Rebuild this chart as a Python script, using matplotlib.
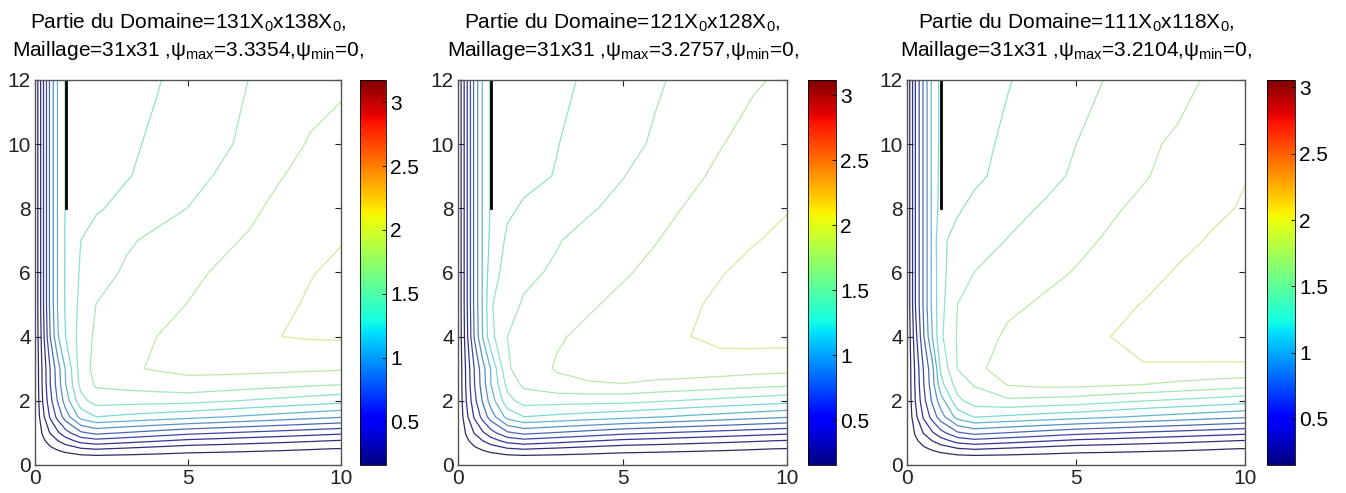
import numpy as np
import matplotlib
matplotlib.use("Agg")
import matplotlib.pyplot as plt
from matplotlib import cm, colors

plt.rcParams['font.family'] = ['Liberation Sans', 'DejaVu Sans']
plt.rcParams['mathtext.fontset'] = 'custom'
plt.rcParams['mathtext.rm'] = 'Liberation Sans'
plt.rcParams['mathtext.it'] = 'Liberation Sans:italic'

# --- maillage (partie visible du domaine) ---
x_nodes = [0, 0.25, 0.5, 0.75, 1, 1.5, 2, 3, 4, 5, 6, 7, 8, 9, 10]
y_nodes = [0, 0.25, 0.5, 0.75, 1, 1.5, 2, 2.5, 3, 4, 5, 6, 7, 8, 9, 10, 12]

domaines = ["131X$_0$x138X$_0$", "121X$_0$x128X$_0$", "111X$_0$x118X$_0$"]
maillage = "31x31"
psi_max = [3.3354, 3.2757, 3.2104]
psi_min = [0, 0, 0]

# fonction de courant psi(y, x), une ligne par valeur de y_nodes
psi_131 = [
    [0, 0, 0, 0, 0, 0, 0, 0, 0, 0, 0, 0, 0, 0, 0],
    [0, .026, .047, .065, .082, .110, .120, .112, .103, .095, .091, .087, .084, .080, .076],
    [0, .070, .129, .178, .225, .300, .328, .293, .258, .223, .209, .195, .181, .167, .153],
    [0, .124, .229, .316, .400, .535, .582, .535, .487, .440, .413, .386, .359, .332, .305],
    [0, .178, .329, .454, .574, .768, .836, .783, .730, .677, .644, .610, .577, .543, .510],
    [0, .271, .500, .690, .873, 1.168, 1.271, 1.235, 1.199, 1.163, 1.124, 1.085, 1.047, 1.008, .970],
    [0, .319, .589, .812, 1.028, 1.375, 1.497, 1.490, 1.485, 1.480, 1.449, 1.418, 1.388, 1.357, 1.326],
    [0, .344, .633, .874, 1.106, 1.480, 1.610, 1.640, 1.670, 1.700, 1.678, 1.655, 1.633, 1.610, 1.588],
    [0, .350, .645, .890, 1.126, 1.510, 1.640, 1.730, 1.760, 1.780, 1.790, 1.790, 1.785, 1.775, 1.765],
    [0, .400, .800, 1.100, 1.270, 1.500, 1.620, 1.700, 1.748, 1.790, 1.830, 1.870, 1.905, 1.920, 1.925],
    [0, .430, .840, 1.130, 1.290, 1.470, 1.590, 1.650, 1.710, 1.750, 1.790, 1.840, 1.880, 1.920, 1.950],
    [0, .430, .840, 1.130, 1.290, 1.450, 1.530, 1.610, 1.670, 1.720, 1.760, 1.810, 1.860, 1.900, 1.930],
    [0, .430, .840, 1.130, 1.290, 1.430, 1.500, 1.570, 1.620, 1.670, 1.720, 1.760, 1.820, 1.870, 1.900],
    [0, .430, .840, 1.130, 1.280, 1.350, 1.410, 1.480, 1.540, 1.590, 1.650, 1.720, 1.780, 1.830, 1.860],
    [0, .430, .840, 1.130, 1.280, 1.320, 1.360, 1.420, 1.480, 1.540, 1.600, 1.660, 1.740, 1.790, 1.820],
    [0, .430, .840, 1.130, 1.280, 1.310, 1.340, 1.400, 1.460, 1.520, 1.560, 1.620, 1.690, 1.760, 1.780],
    [0, .430, .840, 1.130, 1.280, 1.300, 1.330, 1.380, 1.420, 1.490, 1.540, 1.590, 1.640, 1.690, 1.730],
]

psi_121 = [
    [0, 0, 0, 0, 0, 0, 0, 0, 0, 0, 0, 0, 0, 0, 0],
    [0, .026, .046, .064, .081, .108, .118, .110, .101, .093, .089, .085, .082, .079, .075],
    [0, .069, .127, .175, .221, .295, .322, .288, .253, .219, .205, .191, .178, .164, .150],
    [0, .122, .225, .310, .393, .525, .572, .525, .478, .432, .406, .379, .353, .326, .300],
    [0, .175, .323, .446, .564, .754, .821, .769, .717, .665, .632, .599, .567, .533, .501],
    [0, .266, .491, .678, .857, 1.147, 1.248, 1.213, 1.177, 1.142, 1.104, 1.065, 1.028, .990, .953],
    [0, .313, .578, .797, 1.009, 1.350, 1.470, 1.463, 1.458, 1.453, 1.423, 1.392, 1.363, 1.333, 1.302],
    [0, .338, .622, .858, 1.090, 1.450, 1.590, 1.670, 1.700, 1.710, 1.680, 1.660, 1.635, 1.610, 1.586],
    [0, .345, .634, .874, 1.105, 1.540, 1.630, 1.730, 1.770, 1.790, 1.800, 1.800, 1.790, 1.775, 1.763],
    [0, .400, .800, 1.100, 1.360, 1.560, 1.620, 1.700, 1.750, 1.790, 1.830, 1.868, 1.920, 1.930, 1.930],
    [0, .420, .825, 1.110, 1.390, 1.510, 1.575, 1.640, 1.700, 1.750, 1.800, 1.850, 1.900, 1.920, 1.930],
    [0, .420, .825, 1.110, 1.340, 1.460, 1.530, 1.580, 1.640, 1.700, 1.750, 1.810, 1.865, 1.910, 1.930],
    [0, .420, .825, 1.110, 1.290, 1.430, 1.480, 1.550, 1.610, 1.670, 1.710, 1.770, 1.820, 1.865, 1.900],
    [0, .420, .825, 1.110, 1.270, 1.380, 1.420, 1.480, 1.545, 1.600, 1.660, 1.730, 1.790, 1.840, 1.865],
    [0, .420, .825, 1.110, 1.270, 1.320, 1.370, 1.410, 1.490, 1.555, 1.620, 1.680, 1.750, 1.800, 1.830],
    [0, .420, .825, 1.110, 1.270, 1.310, 1.350, 1.400, 1.450, 1.510, 1.580, 1.640, 1.710, 1.770, 1.800],
    [0, .420, .825, 1.110, 1.270, 1.290, 1.320, 1.380, 1.420, 1.480, 1.540, 1.600, 1.650, 1.700, 1.740],
]

psi_111 = [
    [0, 0, 0, 0, 0, 0, 0, 0, 0, 0, 0, 0, 0, 0, 0],
    [0, .025, .046, .063, .080, .107, .116, .109, .100, .092, .088, .084, .081, .078, .074],
    [0, .068, .125, .173, .218, .291, .318, .284, .250, .216, .203, .189, .176, .162, .148],
    [0, .120, .222, .307, .388, .519, .565, .519, .472, .427, .401, .374, .348, .322, .296],
    [0, .173, .319, .440, .557, .745, .811, .760, .708, .657, .625, .592, .560, .527, .495],
    [0, .263, .485, .669, .847, 1.133, 1.233, 1.198, 1.163, 1.128, 1.090, 1.052, 1.016, .978, .941],
    [0, .309, .571, .788, .997, 1.334, 1.452, 1.500, 1.480, 1.460, 1.420, 1.380, 1.350, 1.320, 1.286],
    [0, .330, .610, .850, 1.170, 1.450, 1.540, 1.690, 1.720, 1.720, 1.700, 1.680, 1.650, 1.620, 1.588],
    [0, .340, .630, .870, 1.250, 1.535, 1.640, 1.760, 1.790, 1.800, 1.805, 1.810, 1.805, 1.800, 1.800],
    [0, .400, .760, 1.070, 1.350, 1.545, 1.600, 1.710, 1.750, 1.800, 1.832, 1.930, 1.950, 1.960, 1.960],
    [0, .460, .800, 1.110, 1.330, 1.530, 1.580, 1.650, 1.700, 1.750, 1.800, 1.840, 1.890, 1.930, 1.950],
    [0, .460, .800, 1.110, 1.330, 1.470, 1.530, 1.580, 1.640, 1.690, 1.740, 1.790, 1.845, 1.880, 1.910],
    [0, .460, .800, 1.110, 1.350, 1.420, 1.470, 1.535, 1.590, 1.645, 1.700, 1.750, 1.800, 1.845, 1.880],
    [0, .460, .800, 1.110, 1.280, 1.360, 1.410, 1.480, 1.540, 1.600, 1.660, 1.715, 1.760, 1.810, 1.845],
    [0, .460, .800, 1.110, 1.270, 1.310, 1.350, 1.420, 1.480, 1.550, 1.610, 1.670, 1.730, 1.780, 1.830],
    [0, .460, .800, 1.110, 1.260, 1.300, 1.340, 1.400, 1.460, 1.528, 1.590, 1.660, 1.700, 1.760, 1.800],
    [0, .460, .800, 1.110, 1.260, 1.280, 1.310, 1.370, 1.420, 1.480, 1.540, 1.590, 1.640, 1.700, 1.740],
]

champs = [psi_131, psi_121, psi_111]

# plaque : x = 1, de y = 8 a y = 12
plaque_x = [1, 1]
plaque_y = [8, 12]

# positions [gauche, bas, largeur, hauteur] en fraction de la figure
ax_pos = [[0.026, 0.057, 0.2273, 0.781],
          [0.3403, 0.057, 0.2444, 0.781],
          [0.6738, 0.057, 0.2511, 0.781]]
cb_pos = [[0.2675, 0.057, 0.0193, 0.781],
          [0.6003, 0.057, 0.0208, 0.781],
          [0.9413, 0.057, 0.0208, 0.781]]

jet = plt.get_cmap('jet')


def couleurs_traits(norm, levels):
    # teintes jet un peu ternies pour les iso-lignes fines
    c = jet(norm(levels))[:, :3]
    lum = (0.30 * c[:, 0] + 0.59 * c[:, 1] + 0.11 * c[:, 2])[:, None]
    c = lum + 0.5 * (c - lum)
    return [tuple(v) for v in c]


fig = plt.figure(figsize=(13.46, 4.93), dpi=100)

for i in range(3):
    ax = fig.add_axes(ax_pos[i])
    # 20 iso-valeurs reparties entre psi_min et psi_max
    levels = psi_min[i] + (psi_max[i] - psi_min[i]) * np.arange(1, 21) / 21
    norm = colors.Normalize(levels[0], levels[-1])
    ax.contour(x_nodes, y_nodes, np.array(champs[i]), levels=levels,
               colors=couleurs_traits(norm, levels), linewidths=0.9, alpha=0.85)
    ax.plot(plaque_x, plaque_y, color='k', lw=2)

    ax.set_xlim(0, 10)
    ax.set_ylim(0, 12)
    ax.set_xticks([0, 5, 10])
    ax.set_yticks(range(0, 13, 2))
    ax.tick_params(direction='in', top=True, right=True, labelsize=15,
                   length=4, width=0.8, colors='#222222', pad=3)
    for s in ax.spines.values():
        s.set_color('#555555')
        s.set_linewidth(1.0)

    titre = ("Partie du Domaine=" + domaines[i] + ",\n"
             "Maillage=" + maillage + " ,ψ$_{\\mathregular{max}}$=" + f"{psi_max[i]:.4f}"
             + ",ψ$_{\\mathregular{min}}$=" + f"{psi_min[i]}" + ",")
    ax.set_title(titre, fontsize=15, pad=17, linespacing=1.3)

    cax = fig.add_axes(cb_pos[i])
    cb = fig.colorbar(cm.ScalarMappable(norm=norm, cmap='jet'), cax=cax)
    cb.set_ticks([0.5, 1, 1.5, 2, 2.5, 3])
    cb.set_ticklabels(['0.5', '1', '1.5', '2', '2.5', '3'])
    cb.ax.tick_params(labelsize=15, direction='in', length=3, width=0.6, pad=3)
    cb.outline.set_linewidth(0.6)

fig.savefig("out.png", dpi=100)
